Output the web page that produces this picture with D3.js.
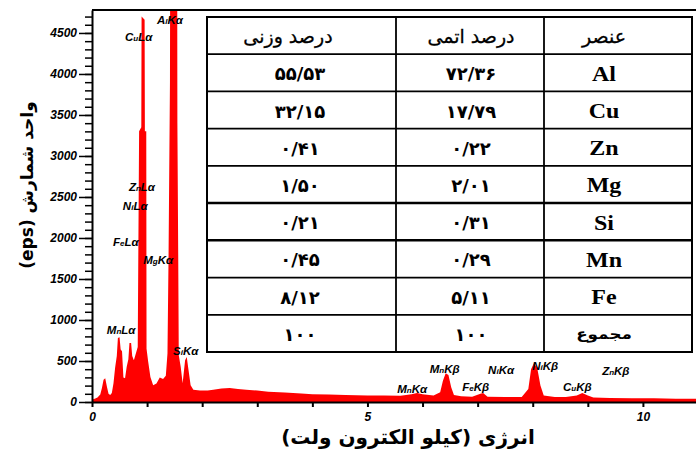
<!DOCTYPE html>
<html>
<head>
<meta charset="utf-8">
<script src="https://cdn.jsdelivr.net/npm/d3@7"></script>
<style>
    body { margin: 0; background: #fff; }
    svg { display: block; }
    .tick-y text, .tick-x text { font-family: "Liberation Sans", Arial, sans-serif; font-style: italic; font-weight: bold; font-size: 12px; }
    .peak-label { font-family: "Liberation Sans", Arial, sans-serif; font-style: italic; font-weight: bold; font-size: 11.5px; }
    .fa { font-family: "DejaVu Sans", sans-serif; direction: rtl; unicode-bidi: embed; }
</style>
</head>
<body>
<svg id="chart" width="696" height="450"></svg>
<script>

// EDS spectrum, energy in keV and counts
var energy = [0.00, 0.05, 0.10, 0.15, 0.18, 0.21, 0.24, 0.27, 0.30, 0.33, 0.36, 0.39, 0.42, 0.45, 0.47, 0.50,
    0.52, 0.545, 0.57, 0.60, 0.63, 0.66, 0.68, 0.71, 0.73, 0.76, 0.80, 0.83, 0.855, 0.895, 0.90, 0.955, 0.96,
    0.985, 0.99, 1.02, 1.06, 1.11, 1.17, 1.23, 1.29, 1.34, 1.37, 1.39, 1.415, 1.43, 1.54, 1.55, 1.565, 1.575,
    1.61, 1.645, 1.69, 1.72, 1.75, 1.79, 1.84, 1.96, 2.10, 2.20, 2.35, 2.50, 2.65, 2.80, 3.00, 3.20, 3.50,
    3.80, 4.00, 4.30, 4.60, 5.00, 5.30, 5.60, 5.80, 5.90, 6.00, 6.20, 6.32, 6.37, 6.42, 6.47, 6.52, 6.57,
    6.70, 6.90, 7.05, 7.10, 7.18, 7.50, 7.80, 7.92, 7.97, 8.02, 8.08, 8.14, 8.20, 8.40, 8.60, 8.80, 8.90,
    9.00, 9.10, 9.40, 9.80, 10.20, 10.60, 11.00];
var counts = [30, 40, 55, 90, 170, 270, 290, 190, 100, 85, 110, 230, 420, 560, 780, 790,
    640, 620, 300, 290, 430, 520, 720, 720, 560, 510, 600, 670, 3300, 3350, 4700, 4660, 3300,
    3300, 650, 490, 305, 205, 225, 300, 280, 320, 590, 1800, 3900, 9000, 9000, 3400, 1800, 570,
    430, 230, 510, 550, 400, 205, 150, 140, 140, 150, 165, 170, 160, 150, 140, 125, 115,
    105, 95, 90, 85, 80, 80, 75, 95, 110, 95, 80, 120, 260, 350, 330, 180, 85,
    70, 65, 100, 110, 65, 60, 60, 160, 400, 470, 420, 200, 80, 60, 60, 80, 110,
    80, 55, 50, 45, 45, 40, 40];

// peak labels: [element, small letter, shell, line], anchored at energy / counts
var peakNames = [["A", "l", "K", "α"], ["C", "u", "L", "α"], ["Z", "n", "L", "α"], ["N", "i", "L", "α"],
    ["F", "e", "L", "α"], ["M", "g", "K", "α"], ["M", "n", "L", "α"], ["S", "i", "K", "α"],
    ["M", "n", "K", "α"], ["M", "n", "K", "β"], ["N", "i", "K", "α"], ["F", "e", "K", "β"],
    ["N", "i", "K", "β"], ["C", "u", "K", "β"], ["Z", "n", "K", "β"]];
var peakLabelEnergy = [1.18, 0.60, 0.67, 0.56, 0.38, 0.93, 0.27, 1.47, 5.54, 6.13, 7.19, 6.72, 7.99, 8.55, 9.26];
var peakLabelCounts = [4610, 4400, 2575, 2340, 1900, 1680, 830, 575, 110, 355, 340, 135, 390, 135, 330];

var yTicks = [0, 500, 1000, 1500, 2000, 2500, 3000, 3500, 4000, 4500];
var xTicks = [0, 1, 2, 3, 4, 5, 6, 7, 8, 9, 10];
var xTickLabels = [0, 5, 10];

// composition table
var tableHeaders = ["درصد وزنی", "درصد اتمی", "عنصر"];
var elementNames = ["Al", "Cu", "Zn", "Mg", "Si", "Mn", "Fe", "مجموع"];
var atomicPercent = ["۷۲/۳۶", "۱۷/۷۹", "۰/۲۲", "۲/۰۱", "۰/۳۱", "۰/۲۹", "۵/۱۱", "۱۰۰"];
var weightPercent = ["۵۵/۵۳", "۳۲/۱۵", "۰/۴۱", "۱/۵۰", "۰/۲۱", "۰/۴۵", "۸/۱۲", "۱۰۰"];

var xTitle = "انرژی (کیلو الکترون ولت)";
var yTitle = "واحد شمارش (eps)";


var svg = d3.select("#chart");
var plotLeft = 92, plotTop = 10, plotBottom = 402, plotRight = 698;

var x = d3.scaleLinear().domain([0, 11]).range([plotLeft, plotRight]);
var y = d3.scaleLinear().domain([0, 4780]).range([plotBottom, plotTop]);

svg.append("clipPath").attr("id", "plot-clip")
    .append("rect")
    .attr("x", plotLeft).attr("y", plotTop)
    .attr("width", plotRight - plotLeft).attr("height", plotBottom - plotTop);

var points = energy.map(function (e, i) { return [e, counts[i]]; });

// spectrum as a filled area
svg.append("path")
    .datum(points)
    .attr("clip-path", "url(#plot-clip)")
    .attr("fill", "#ff0000")
    .attr("d", d3.area()
        .x(function (d) { return x(d[0]); })
        .y0(y(0))
        .y1(function (d) { return y(d[1]); }));

// y axis with minor ticks every 100
svg.append("g")
    .attr("transform", "translate(" + plotLeft + ",0)")
    .call(d3.axisLeft(y).tickValues(d3.range(0, 4701, 100)).tickSize(7).tickFormat(""))
    .call(function (g) { g.select(".domain").remove(); })
    .selectAll("line").attr("stroke-width", 1.5);

var yAxis = svg.append("g")
    .attr("class", "tick-y")
    .attr("transform", "translate(" + plotLeft + ",0)")
    .call(d3.axisLeft(y).tickValues(yTicks).tickSize(13).tickSizeOuter(0).tickPadding(2)
        .tickFormat(d3.format("d")));
yAxis.select(".domain").attr("stroke-width", 2);
yAxis.selectAll("line").attr("stroke-width", 1.5);

var xAxis = svg.append("g")
    .attr("class", "tick-x")
    .attr("transform", "translate(0," + plotBottom + ")")
    .call(d3.axisBottom(x).tickValues(xTicks).tickSize(5).tickSizeOuter(0).tickPadding(5)
        .tickFormat(function (d) { return xTickLabels.indexOf(d) >= 0 ? d : ""; }));
xAxis.select(".domain").attr("stroke-width", 2);
xAxis.selectAll("line").attr("stroke-width", 2);

// top frame line
svg.append("line")
    .attr("x1", plotLeft).attr("x2", 696)
    .attr("y1", plotTop).attr("y2", plotTop)
    .attr("stroke", "#000").attr("stroke-width", 2);

// peak labels
var labels = svg.selectAll(".peak-label")
    .data(peakNames)
    .enter().append("text")
    .attr("class", "peak-label")
    .attr("x", function (d, i) { return x(peakLabelEnergy[i]); })
    .attr("y", function (d, i) { return y(peakLabelCounts[i]); });
labels.append("tspan").text(function (d) { return d[0]; });
labels.append("tspan").attr("font-size", "8px").text(function (d) { return d[1]; });
labels.append("tspan").text(function (d) { return d[2] + d[3]; });

// axis titles
svg.append("text")
    .attr("class", "fa")
    .attr("x", 408).attr("y", 444)
    .attr("text-anchor", "middle")
    .attr("font-size", "20px").attr("font-weight", "bold")
    .text(xTitle);

svg.append("text")
    .attr("class", "fa")
    .attr("transform", "translate(27,185) rotate(-90)")
    .attr("text-anchor", "middle")
    .attr("dominant-baseline", "central")
    .attr("font-size", "17px").attr("font-weight", "bold")
    .text(yTitle);

// table inset
var colEdges = [207, 396, 544, 692];
var colCenters = [300, 471, 604];
var rows = d3.scaleBand().domain(d3.range(elementNames.length + 1)).range([17, 352]);

var table = svg.append("g");
table.append("rect")
    .attr("x", colEdges[0]).attr("y", rows.range()[0])
    .attr("width", colEdges[3] - colEdges[0]).attr("height", rows.range()[1] - rows.range()[0])
    .attr("fill", "#fff").attr("stroke", "#000").attr("stroke-width", 2);

table.selectAll(".row-line")
    .data(d3.range(1, elementNames.length + 1))
    .enter().append("line")
    .attr("x1", colEdges[0]).attr("x2", colEdges[3])
    .attr("y1", function (d) { return rows(d); })
    .attr("y2", function (d) { return rows(d); })
    .attr("stroke", "#000")
    .attr("stroke-width", function (d) { return d === 5 || d === 6 ? 2.5 : 1.8; });

table.selectAll(".col-line")
    .data([colEdges[1], colEdges[2]])
    .enter().append("line")
    .attr("x1", function (d) { return d; }).attr("x2", function (d) { return d; })
    .attr("y1", rows.range()[0]).attr("y2", rows.range()[1])
    .attr("stroke", "#000").attr("stroke-width", 1.8);

table.selectAll(".head")
    .data(tableHeaders)
    .enter().append("text")
    .attr("class", "fa")
    .attr("x", function (d, i) { return colCenters[i] - (i === 0 ? 12 : 0); })
    .attr("y", rows(0) + rows.bandwidth() / 2)
    .attr("text-anchor", "middle")
    .attr("dominant-baseline", "central")
    .attr("font-size", "19px")
    .attr("stroke", "#000").attr("stroke-width", 0.3)
    .text(String);

function cellColumn(values, col) {
    table.selectAll(".c" + col)
        .data(values)
        .enter().append("text")
        .attr("class", "fa")
        .attr("x", colCenters[col])
        .attr("y", function (d, i) { return rows(i + 1) + rows.bandwidth() / 2 + 1; })
        .attr("text-anchor", "middle")
        .attr("dominant-baseline", "central")
        .attr("font-size", "18px").attr("font-weight", "bold")
        .text(String);
}
cellColumn(weightPercent, 0);
cellColumn(atomicPercent, 1);

table.selectAll(".el")
    .data(elementNames)
    .enter().append("text")
    .attr("transform", function (d, i) {
        return "translate(" + colCenters[2] + "," + (rows(i + 1) + rows.bandwidth() / 2 + 1) + ") scale(1.2,1)";
    })
    .attr("text-anchor", "middle")
    .attr("dominant-baseline", "central")
    .attr("font-family", function (d, i) { return i === elementNames.length - 1 ? "DejaVu Sans" : "Liberation Serif"; })
    .attr("font-size", function (d, i) { return i === elementNames.length - 1 ? "14px" : "20px"; })
    .attr("font-weight", "bold")
    .text(String);

</script>
</body>
</html>
